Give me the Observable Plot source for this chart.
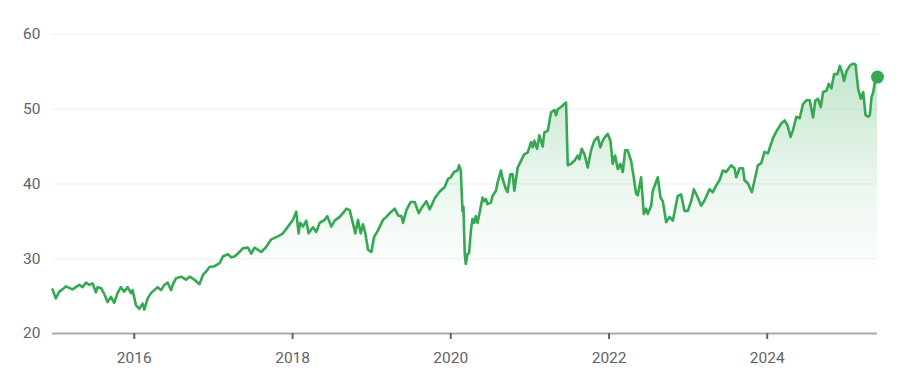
<!DOCTYPE html>
<html>
<head>
<meta charset="utf-8">
<script src="https://cdn.jsdelivr.net/npm/d3@7"></script>
<script src="https://cdn.jsdelivr.net/npm/@observablehq/plot@0.6"></script>
<style>
  html, body { margin: 0; padding: 0; background: #fff; }
  #chart { width: 903px; height: 387px; }
</style>
</head>
<body>
<div id="chart"></div>
<script>
// Time (decimal years) and price values
const years = [
  2014.966, 2015.008, 2015.051, 2015.093, 2015.135, 2015.177, 2015.219, 2015.262, 2015.304, 2015.346,
  2015.388, 2015.430, 2015.473, 2015.515, 2015.536, 2015.578, 2015.620, 2015.662, 2015.705, 2015.747,
  2015.789, 2015.831, 2015.873, 2015.916, 2015.958, 2015.979, 2016.021, 2016.063, 2016.105, 2016.127,
  2016.169, 2016.211, 2016.253, 2016.295, 2016.338, 2016.380, 2016.422, 2016.464, 2016.485, 2016.527,
  2016.591, 2016.654, 2016.696, 2016.759, 2016.823, 2016.865, 2016.907, 2016.949, 2017.013, 2017.076,
  2017.118, 2017.181, 2017.224, 2017.266, 2017.308, 2017.371, 2017.435, 2017.477, 2017.519, 2017.561,
  2017.603, 2017.667, 2017.730, 2017.814, 2017.878, 2017.941, 2018.004, 2018.046, 2018.076, 2018.097,
  2018.131, 2018.173, 2018.203, 2018.257, 2018.300, 2018.342, 2018.405, 2018.439, 2018.489, 2018.532,
  2018.595, 2018.637, 2018.679, 2018.722, 2018.764, 2018.793, 2018.827, 2018.861, 2018.890, 2018.920,
  2018.954, 2018.996, 2019.030, 2019.080, 2019.143, 2019.186, 2019.228, 2019.291, 2019.333, 2019.376,
  2019.397, 2019.439, 2019.494, 2019.544, 2019.595, 2019.637, 2019.692, 2019.734, 2019.797, 2019.861,
  2019.924, 2019.966,
  2020.000, 2020.042, 2020.084, 2020.105, 2020.127, 2020.148, 2020.160, 2020.177, 2020.190, 2020.211,
  2020.232, 2020.253, 2020.274, 2020.295, 2020.316, 2020.338, 2020.359, 2020.401, 2020.422, 2020.443,
  2020.464, 2020.506, 2020.527, 2020.570, 2020.591, 2020.633, 2020.654, 2020.696, 2020.717, 2020.751,
  2020.781, 2020.802, 2020.844, 2020.886, 2020.928, 2020.970, 2021.013, 2021.034, 2021.055, 2021.089,
  2021.118, 2021.160, 2021.181, 2021.224, 2021.266, 2021.308, 2021.329, 2021.350, 2021.392, 2021.414,
  2021.456, 2021.477, 2021.519, 2021.561, 2021.603, 2021.624, 2021.654, 2021.688, 2021.730, 2021.772,
  2021.814, 2021.857, 2021.890, 2021.920, 2021.949, 2021.983, 2022.017, 2022.046, 2022.076, 2022.110,
  2022.143, 2022.173, 2022.203, 2022.236, 2022.278, 2022.312, 2022.342, 2022.363, 2022.405, 2022.439,
  2022.468, 2022.489, 2022.532, 2022.553, 2022.616, 2022.650, 2022.679, 2022.722, 2022.764, 2022.806,
  2022.827, 2022.869, 2022.911, 2022.954, 2022.996, 2023.038, 2023.072, 2023.122, 2023.165, 2023.207,
  2023.270, 2023.312, 2023.354, 2023.397, 2023.439, 2023.481, 2023.544, 2023.586, 2023.608, 2023.650,
  2023.692, 2023.713, 2023.755, 2023.806, 2023.840, 2023.882, 2023.924, 2023.966, 2024.008, 2024.072,
  2024.114, 2024.177, 2024.219, 2024.253, 2024.295, 2024.325, 2024.367, 2024.409, 2024.451, 2024.494,
  2024.536, 2024.578, 2024.608, 2024.641, 2024.675, 2024.705, 2024.747, 2024.776, 2024.810, 2024.844,
  2024.886, 2024.916, 2024.945, 2024.970, 2025.000, 2025.042, 2025.063, 2025.084, 2025.114, 2025.148,
  2025.181, 2025.211, 2025.241, 2025.274, 2025.295, 2025.316, 2025.338, 2025.359, 2025.392
];
const prices = [
  25.9, 24.7, 25.6, 25.9, 26.3, 26.1, 25.9, 26.2, 26.5, 26.2,
  26.8, 26.5, 26.7, 25.5, 26.2, 26.1, 25.3, 24.2, 24.9, 24.1,
  25.4, 26.2, 25.6, 26.2, 25.4, 25.8, 23.8, 23.3, 24.0, 23.2,
  24.7, 25.4, 25.8, 26.2, 25.8, 26.5, 26.8, 25.8, 26.5, 27.4,
  27.6, 27.2, 27.6, 27.2, 26.6, 27.8, 28.3, 28.9, 29.0, 29.4,
  30.3, 30.6, 30.2, 30.3, 30.7, 31.4, 31.5, 30.7, 31.5, 31.2,
  30.9, 31.6, 32.6, 33.0, 33.4, 34.3, 35.2, 36.3, 33.4, 34.8,
  34.3, 35.1, 33.4, 34.2, 33.6, 34.8, 35.2, 35.7, 34.3, 35.1,
  35.6, 36.1, 36.7, 36.5, 34.7, 33.4, 35.2, 33.4, 34.6, 33.4,
  31.2, 30.9, 32.9, 33.8, 35.2, 35.6, 36.1, 36.7, 35.8, 35.7,
  34.8, 36.5, 37.6, 37.6, 36.1, 36.9, 37.7, 36.6, 38.1, 39.0,
  39.6, 40.7,
  40.9, 41.6, 41.8, 42.5, 41.8, 36.4, 37.0, 30.6, 29.3, 30.6,
  30.8, 33.7, 35.3, 34.8, 35.7, 34.8, 35.9, 38.2, 37.7, 38.0,
  37.3, 37.5, 38.4, 39.1, 40.2, 41.8, 40.7, 39.3, 38.9, 41.3,
  41.3, 39.1, 42.2, 43.1, 44.0, 44.2, 45.6, 44.9, 45.8, 44.7,
  46.5, 45.0, 46.9, 47.1, 49.6, 49.9, 49.2, 50.0, 50.3, 50.5,
  50.9, 42.5, 42.7, 43.1, 43.8, 43.3, 44.7, 44.0, 42.2, 44.5,
  45.8, 46.3, 44.9, 45.8, 46.3, 46.7, 45.8, 42.7, 43.8, 42.0,
  42.7, 41.6, 44.5, 44.5, 43.1, 40.9, 38.7, 38.5, 40.9, 36.0,
  36.7, 36.0, 37.1, 39.1, 40.9, 38.2, 37.7, 34.9, 35.6, 35.1,
  36.2, 38.4, 38.6, 36.4, 36.4, 37.7, 39.3, 38.2, 37.1, 37.8,
  39.3, 38.9, 39.8, 40.5, 41.8, 41.6, 42.5, 42.1, 40.9, 42.1,
  42.1, 40.5, 40.1, 38.9, 40.5, 42.5, 42.8, 44.3, 44.1, 46.1,
  47.0, 48.1, 48.5, 47.9, 46.3, 47.2, 49.0, 48.8, 50.7, 51.2,
  51.2, 48.9, 51.2, 51.4, 50.3, 52.3, 52.5, 53.4, 52.8, 54.7,
  54.7, 55.8, 54.9, 53.8, 55.1, 55.8, 56.0, 56.1, 56.0, 52.7,
  51.4, 52.3, 49.2, 49.0, 49.2, 51.6, 52.3, 53.6, 54.3
];
const yTicks = [20, 30, 40, 50, 60];
const xTickYears = [2016, 2018, 2020, 2022, 2024];

function toDate(y) {
  const yr = Math.floor(y);
  const a = Date.UTC(yr, 0, 1), b = Date.UTC(yr + 1, 0, 1);
  return new Date(a + (y - yr) * (b - a));
}
const data = years.map((y, i) => ({date: toDate(y), price: prices[i]}));
const last = data[data.length - 1];
const xTicks = xTickYears.map(y => new Date(Date.UTC(y, 0, 1)));

const green = "#34a853";
const grey = "#5f6368";

const chart = Plot.plot({
  width: 903,
  height: 387,
  marginLeft: 52,
  marginRight: 26,
  marginTop: 34,
  marginBottom: 54,
  style: {fontFamily: "Roboto, 'Noto Sans', sans-serif", fontSize: "15.5px", color: grey, background: "#fff", overflow: "visible"},
  x: {type: "utc", domain: [data[0].date, last.date]},
  y: {domain: [20, 60]},
  marks: [
    Plot.ruleY([30, 40, 50, 60], {stroke: "#eceff1", strokeWidth: 1}),
    Plot.areaY(data, {x: "date", y1: 20, y2: "price", fill: "url(#areaGrad)", curve: "linear"}),
    Plot.ruleY([20], {stroke: "#a7abb0", strokeWidth: 2}),
    Plot.line(data, {x: "date", y: "price", stroke: green, strokeWidth: 2.6, strokeLinejoin: "round"}),
    Plot.dot([last], {x: "date", y: "price", r: 6.5, fill: green}),
    Plot.axisY({ticks: yTicks, tickSize: 0, tickPadding: 12, label: null, fill: grey}),
    Plot.axisX({ticks: xTicks, tickFormat: "%Y", tickSize: 6, tickPadding: 12, label: null, stroke: grey, strokeWidth: 2, fill: grey})
  ]
});

const svg = d3.select(chart);
const defs = svg.insert("defs", ":first-child");
const grad = defs.append("linearGradient").attr("id", "areaGrad")
  .attr("x1", 0).attr("y1", 0).attr("x2", 0).attr("y2", 1);
grad.append("stop").attr("offset", "0%").attr("stop-color", green).attr("stop-opacity", 0.3);
grad.append("stop").attr("offset", "45%").attr("stop-color", green).attr("stop-opacity", 0.1);
grad.append("stop").attr("offset", "80%").attr("stop-color", green).attr("stop-opacity", 0);

document.getElementById("chart").appendChild(chart);
</script>
</body>
</html>
